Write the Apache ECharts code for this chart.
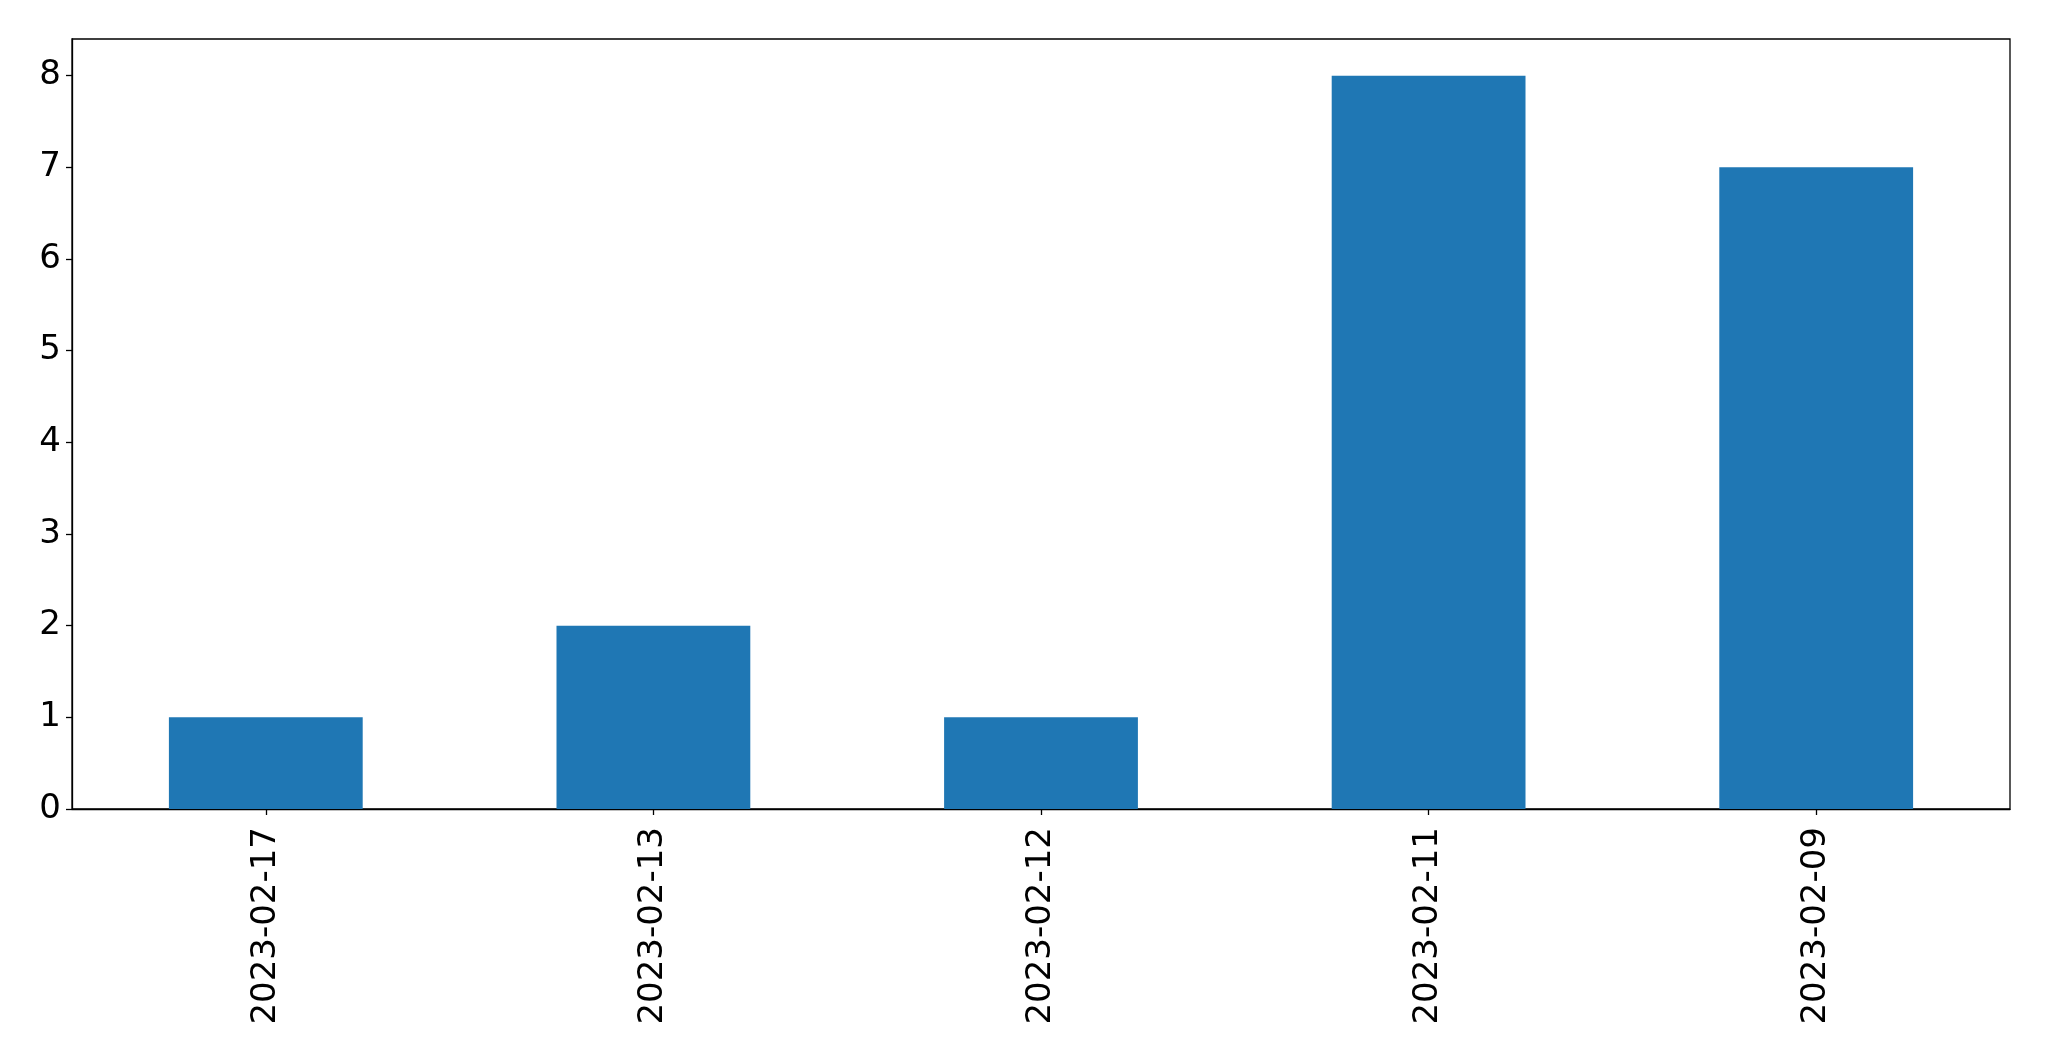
<!DOCTYPE html>
<html><head><meta charset="utf-8">
<script src="https://cdn.jsdelivr.net/npm/echarts@6/dist/echarts.min.js"></script>
<style>html,body{margin:0;padding:0;background:#fff}#c{width:2049px;height:1061px}</style>
</head><body><div id="c"></div>
<script>
const categories = ['2023-02-17', '2023-02-13', '2023-02-12', '2023-02-11', '2023-02-09'];
const values = [1, 2, 1, 8, 7];
const yTicks = [0, 1, 2, 3, 4, 5, 6, 7, 8];

const chart = echarts.init(document.getElementById('c'));
const font = 'DejaVu Sans';
chart.setOption({
  animation: false,
  grid: { left: 72, right: 39, top: 39, bottom: 252, show: true, borderColor: '#000', borderWidth: 1.3, containLabel: false },
  xAxis: {
    type: 'category', data: categories, boundaryGap: true,
    axisLine: { show: true, lineStyle: { color: '#000', width: 1.3 } },
    axisTick: { show: true, alignWithLabel: true, length: 6, lineStyle: { color: '#000', width: 1.3 } },
    axisLabel: { rotate: 90, margin: 18, fontSize: 34, fontFamily: font, color: '#000' },
    splitLine: { show: false }
  },
  yAxis: {
    type: 'value', min: 0, max: 8.4, interval: 1,
    axisLine: { show: true, lineStyle: { color: '#000', width: 1.3 } },
    axisTick: { show: true, length: 6, customValues: yTicks, lineStyle: { color: '#000', width: 1.3 } },
    axisLabel: { customValues: yTicks, margin: 11, fontSize: 34, fontFamily: font, color: '#000', padding: [8, 0, 0, 0] },
    splitLine: { show: false }
  },
  series: [{
    type: 'bar', data: values, barWidth: '50%',
    itemStyle: { color: '#1f77b4' }
  }]
});
</script></body></html>
